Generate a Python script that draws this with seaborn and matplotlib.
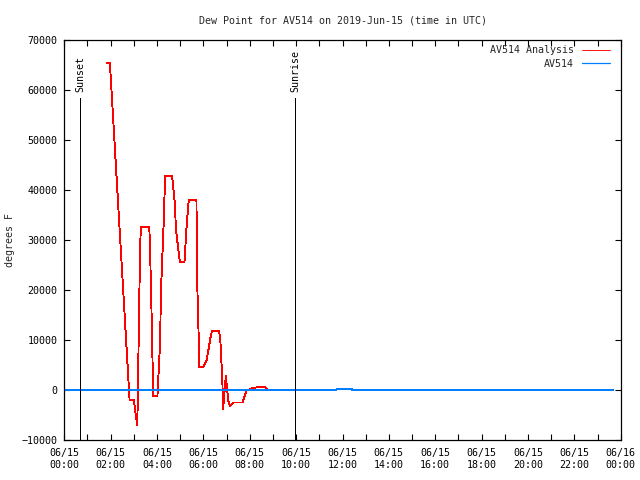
import matplotlib
matplotlib.use("Agg")
import matplotlib.pyplot as plt
import matplotlib.dates as mdates
import seaborn as sns
import pandas as pd

# ---- data ----
day = "2019-06-15"
analysis_times = ["01:50", "01:58", "02:49", "03:00", "03:04", "03:09", "03:16", "03:18",
                  "03:40", "03:42", "03:47", "03:50", "04:01", "04:08", "04:10", "04:17",
                  "04:21", "04:39", "04:46", "04:49", "04:59", "05:11", "05:17", "05:22",
                  "05:42", "05:44", "05:48", "05:49", "05:59", "06:08", "06:19", "06:22",
                  "06:41", "06:44", "06:49", "06:51", "06:58", "07:04", "07:09", "07:19",
                  "07:41", "07:52", "08:09", "08:19", "08:39", "08:48"]
analysis_values = [65300, 65300, -2000, -2000, -4400, -7100, 27700, 32500,
                   32500, 28000, 11400, -1300, -1300, 9500, 19400, 33000,
                   42800, 42800, 37300, 32000, 25600, 25600, 33300, 37900,
                   37900, 21300, 10000, 4500, 4500, 5800, 10700, 11700,
                   11700, 9700, 2000, -3900, 2800, -2000, -3200, -2500,
                   -2500, -100, 400, 530, 530, 0]

obs_times = ["00:00", "11:44", "11:45", "12:23", "12:24", "23:40"]
obs_values = [0, 0, 200, 200, 0, 0]

event_names = ["Sunset", "Sunrise"]
event_times = ["00:41", "09:58"]
event_top = 58250
label_base = 59500

title = "Dew Point for AV514 on 2019-Jun-15 (time in UTC)"
ylabel = "degrees F"
series_names = ["AV514 Analysis", "AV514"]
y_min, y_max, y_step = -10000, 70000, 10000


def to_dt(times):
    return pd.to_datetime([f"{day} {t}" for t in times])


df_a = pd.DataFrame({"time": to_dt(analysis_times), "value": analysis_values})
df_o = pd.DataFrame({"time": to_dt(obs_times), "value": obs_values})

sns.set_style("ticks")
plt.rcParams["font.family"] = ["DejaVu Sans Mono"]
plt.rcParams["font.size"] = 7.2
plt.rcParams["xtick.direction"] = "in"
plt.rcParams["ytick.direction"] = "in"

fig = plt.figure(figsize=(6.4, 4.8), dpi=100)
W, H = 640, 480
left, right, top, bottom = 64.3, 620.7, 39.5, 440.0
ax = fig.add_axes([left / W, 1 - bottom / H, (right - left) / W, (bottom - top) / H])

sns.lineplot(data=df_a, x="time", y="value", ax=ax, color="#ff0000", lw=0.65,
             label=series_names[0], antialiased=False)
sns.lineplot(data=df_o, x="time", y="value", ax=ax, color="#0080ff", lw=0.9,
             label=series_names[1], antialiased=False)

ev = to_dt(event_times)
for name, t in zip(event_names, ev):
    ax.vlines(t, y_min, event_top, color="black", lw=0.65, antialiased=False)
    ax.text(t, label_base, name, rotation=90, ha="center", va="bottom",
            fontsize=7.2, color="black")

start = pd.Timestamp(day)
ax.set_xlim(start, start + pd.Timedelta(hours=24))
ax.set_ylim(y_min, y_max)
ax.set_yticks(range(y_min, y_max + 1, y_step))
ax.xaxis.set_major_locator(mdates.HourLocator(interval=2))
ax.xaxis.set_minor_locator(mdates.HourLocator(interval=1))
ax.xaxis.set_major_formatter(mdates.DateFormatter("%m/%d\n%H:%M"))

ax.tick_params(axis="both", which="both", top=True, right=True, length=4,
               width=0.8, color="black", labelsize=7.2, labelcolor="black")
ax.tick_params(axis="x", which="major", pad=6)
ax.tick_params(axis="y", which="major", pad=5)
for s in ax.spines.values():
    s.set_visible(True)
    s.set_color("black")
    s.set_linewidth(0.9)

ax.set_xlabel("")
ax.set_ylabel(ylabel, fontsize=7.2)
ax.yaxis.set_label_coords((15 - left) / (right - left), 0.5)
ax.set_title(title, fontsize=7.2, pad=11.5)

leg = ax.legend(loc="upper right", bbox_to_anchor=(0.981, 0.986), frameon=False,
                markerfirst=False, handlelength=2.8, handletextpad=0.8,
                borderaxespad=0, borderpad=0, labelspacing=0.35, fontsize=7.2)

fig.savefig("out.png", dpi=100)
